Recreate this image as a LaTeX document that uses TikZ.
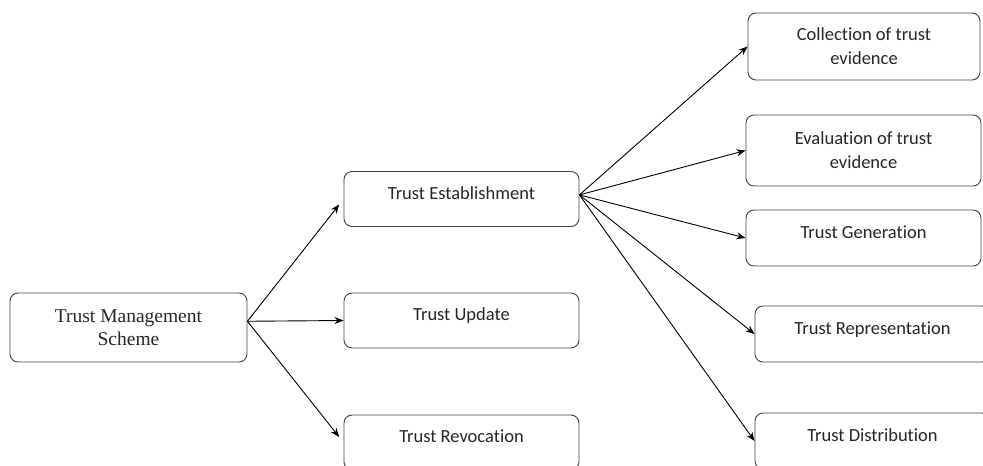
\documentclass[tikz,border=0pt]{standalone}
\usepackage{fontspec}
\setmainfont{Carlito}[Ligatures=NoCommon]
\newfontfamily\tmsfont{Liberation Serif}
\usetikzlibrary{arrows.meta}

\begin{document}
\begin{tikzpicture}[
    x=1pt, y=-1pt,
    >={Stealth[length=9pt,width=7pt]},
    box/.style={draw=black!75, line width=0.9pt, rounded corners=8pt,
        minimum width=235pt, minimum height=55pt, align=center,
        font=\fontsize{18.5}{24}\selectfont, text=black!85},
    onerow/.style={text height=14pt, text depth=14pt},
    link/.style={->, line width=0.9pt}
]
\useasboundingbox (0,0) rectangle (983,466);

\node[box, minimum width=237pt, minimum height=69pt,
    font=\tmsfont\fontsize{19.5}{23}\selectfont] (tms) at (128.5,327.5)
    {Trust Management\\Scheme};

\node[box,onerow] (est) at (461.5,199) {Trust Establishment};
\node[box,onerow] (upd) at (461.5,320.5) {Trust Update};
\node[box,onerow] (rev) at (461.5,442.5) {Trust Revocation};

\node[box, minimum width=232pt, minimum height=67pt] (col) at (864,46.5)
    {Collection of trust\\evidence};
\node[box, minimum height=71pt] (eva) at (863.5,150.5)
    {Evaluation of trust\\evidence};
\node[box,onerow, minimum height=56pt] (gen) at (863.5,238) {Trust Generation};
\node[box,onerow, minimum height=56pt] (rep) at (872.5,334) {Trust Representation};
\node[box,onerow, minimum height=56pt] (dis) at (872.5,441) {Trust Distribution};

\path[link]
(tms.3) edge[shorten >=7pt] (est.west)
(tms.3) edge (upd.west)
(tms.3) edge[shorten >=7pt] (rev.west)
(est.2) edge (col.west)
(est.2) edge (eva.west)
(est.2) edge (gen.west)
(est.2) edge (rep.west)
(est.2) edge (dis.west);
\end{tikzpicture}
\end{document}
